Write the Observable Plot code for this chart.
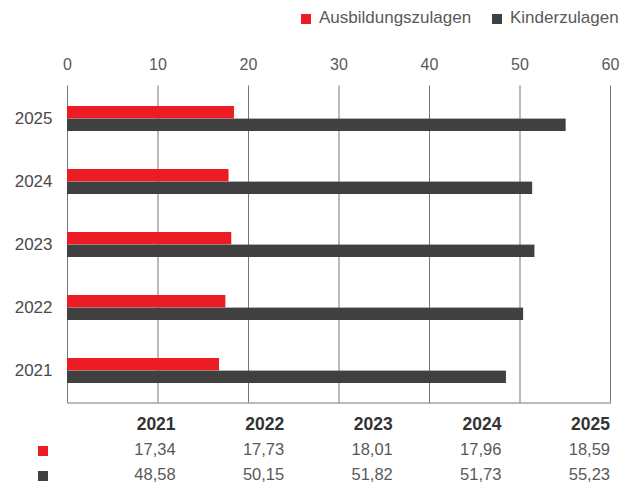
<!DOCTYPE html>
<html>
<head>
<meta charset="utf-8">
<script src="https://cdn.jsdelivr.net/npm/d3@7"></script>
<script src="https://cdn.jsdelivr.net/npm/@observablehq/plot@0.6"></script>
<style>
  body { margin: 0; background: #fff; font-family: "Liberation Sans", Arial, sans-serif; }
  #wrap { position: relative; width: 635px; height: 484px; overflow: hidden; background: #fff; }
  #chart { position: absolute; left: 0; top: 0; }
  .legend { position: absolute; top: 8px; height: 20px; line-height: 20px; font-size: 17px; color: #595959; white-space: nowrap; }
  .legend .sw { display: inline-block; width: 10px; height: 10px; margin-right: 8px; vertical-align: -1px; }
  table.values { position: absolute; left: 0; top: 412px; border-collapse: collapse; table-layout: fixed; width: 610px; }
  table.values td, table.values th { padding: 0; height: 25px; line-height: 25px; text-align: right; white-space: nowrap; }
  table.values th { font-weight: bold; font-size: 17.5px; color: #333; }
  table.values td { font-size: 16.5px; color: #595959; }
  table.values td.key { text-align: left; }
  table.values .sw { display: inline-block; width: 10px; height: 10px; margin-left: 38px; vertical-align: -1px; }
</style>
</head>
<body>
<div id="wrap">
  <div id="chart"></div>
</div>
<script>
// ---- data ----
const years = ["2021", "2022", "2023", "2024", "2025"];
const seriesNames = ["Ausbildungszulagen", "Kinderzulagen"];
const seriesColors = ["#ed1c24", "#404040"];
// bar lengths as drawn in the chart
const ausbildungszulagenBars = [16.8, 17.5, 18.15, 17.85, 18.45];
const kinderzulagenBars = [48.5, 50.4, 51.65, 51.4, 55.1];
// values printed in the table below the chart
const ausbildungszulagenTable = ["17,34", "17,73", "18,01", "17,96", "18,59"];
const kinderzulagenTable = ["48,58", "50,15", "51,82", "51,73", "55,23"];
const xTicks = [0, 10, 20, 30, 40, 50, 60];

const redRows = years.map((y, i) => ({year: y, series: seriesNames[0], value: ausbildungszulagenBars[i]}));
const darkRows = years.map((y, i) => ({year: y, series: seriesNames[1], value: kinderzulagenBars[i]}));

const fontFamily = '"Liberation Sans", Arial, sans-serif';
const half = 12.6;

const chart = Plot.plot({
  width: 635,
  height: 410,
  marginTop: 87.5,
  marginBottom: 7.5,
  marginLeft: 67,
  marginRight: 25,
  style: {fontFamily, background: "transparent", overflow: "visible"},
  x: {domain: [0, 60], label: null},
  y: {domain: years.slice().reverse(), paddingInner: 0.6, paddingOuter: 0.3, label: null},
  color: {domain: seriesNames, range: seriesColors},
  marks: [
    Plot.ruleX(xTicks, {stroke: "#777", strokeWidth: 1, insetTop: -2}),
    Plot.frame({anchor: "bottom", stroke: "#777"}),
    Plot.barX(redRows, {x: "value", y: "year", fill: "series", insetBottom: half}),
    Plot.barX(darkRows, {x: "value", y: "year", fill: "series", insetTop: half}),
    Plot.axisX({anchor: "top", ticks: xTicks, tickSize: 0, tickPadding: 18, fontSize: 16, fill: "#595959", label: null}),
    Plot.axisY({anchor: "left", tickSize: 0, tickPadding: 15, fontSize: 17, fill: "#4a4a4a", label: null})
  ]
});
document.getElementById("chart").appendChild(chart);

// ---- legend ----
const wrap = d3.select("#wrap");
const legendLeft = [301, 492];
seriesNames.forEach((name, i) => {
  const item = wrap.append("div").attr("class", "legend").style("left", legendLeft[i] + "px");
  item.append("span").attr("class", "sw").style("background", seriesColors[i]);
  item.append("span").text(name);
});

// ---- table ----
const table = wrap.append("table").attr("class", "values");
const colgroup = table.append("colgroup");
colgroup.append("col").style("width", "67px");
years.forEach(() => colgroup.append("col").style("width", (543 / 5) + "px"));
const head = table.append("tr");
head.append("th");
years.forEach(y => head.append("th").text(y));
[ausbildungszulagenTable, kinderzulagenTable].forEach((vals, i) => {
  const tr = table.append("tr");
  tr.append("td").attr("class", "key").append("span").attr("class", "sw").style("background", seriesColors[i]);
  vals.forEach(v => tr.append("td").text(v));
});
</script>
</body>
</html>
